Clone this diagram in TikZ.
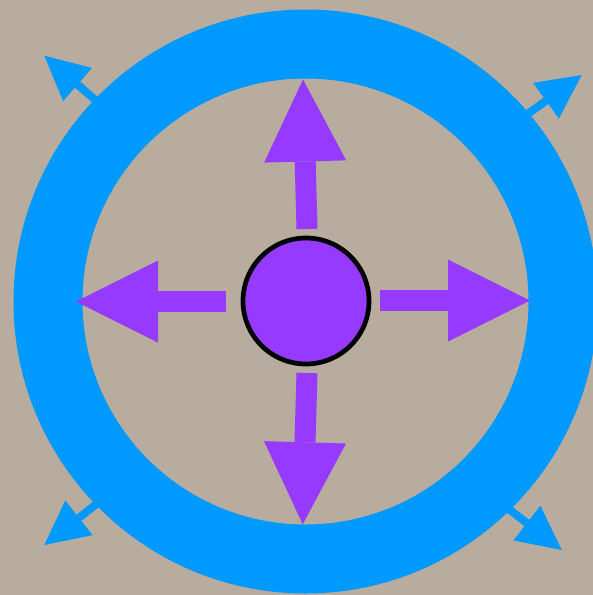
\documentclass[tikz,border=0pt]{standalone}
\usetikzlibrary{arrows.meta}
\definecolor{bgcol}{RGB}{183,172,158}
\definecolor{ringblue}{RGB}{0,153,255}
\definecolor{violet}{RGB}{150,58,255}
\tikzset{
  bigarrow/.style={draw=violet, line width=21pt,
    -{Triangle[width=82pt,length=82pt,line width=0pt]}},
  smallarrow/.style={draw=ringblue, line width=8pt,
    -{Triangle[width=44pt,length=44pt,line width=0pt]}},
  hub/.style={circle, fill=violet, draw=black, line width=4.7pt,
    minimum size=126pt, inner sep=0pt}
}
\begin{document}
\begin{tikzpicture}[x=1pt,y=-1pt]
\useasboundingbox (0,0) rectangle (593,595);
\clip (0,0) rectangle (593,595);
\fill[bgcol] (0,0) rectangle (593,595);
% corner arrows (under the ring)
\coordinate (tlS) at (108,111);   \coordinate (tlT) at (44.3,55.7);
\coordinate (trS) at (511,126);   \coordinate (trT) at (581.7,75);
\coordinate (blS) at (113,491);   \coordinate (blT) at (44.3,545);
\coordinate (brS) at (492,496);   \coordinate (brT) at (561.7,550);
\draw[smallarrow] (tlS) -- (tlT);
\draw[smallarrow] (trS) -- (trT);
\draw[smallarrow] (blS) -- (blT);
\draw[smallarrow] (brS) -- (brT);
% ring
\coordinate (rc) at (305.5,301.5);
\draw[ringblue, line width=69pt] (rc) circle[radius=257.5];
% hub
\node[hub] (hub) at (306,301) {};
% purple arrows
\coordinate (lS) at (226,301.5);  \coordinate (lT) at (76,301.5);
\coordinate (rS) at (380,300.5);  \coordinate (rT) at (530,300.5);
\coordinate (uS) at (307,229);    \coordinate (uT) at (303,79.5);
\coordinate (dS) at (307,373);    \coordinate (dT) at (302.7,524.3);
\draw[bigarrow] (lS) -- (lT);
\draw[bigarrow] (rS) -- (rT);
\draw[bigarrow] (uS) -- (uT);
\draw[bigarrow] (dS) -- (dT);
\end{tikzpicture}
\end{document}
